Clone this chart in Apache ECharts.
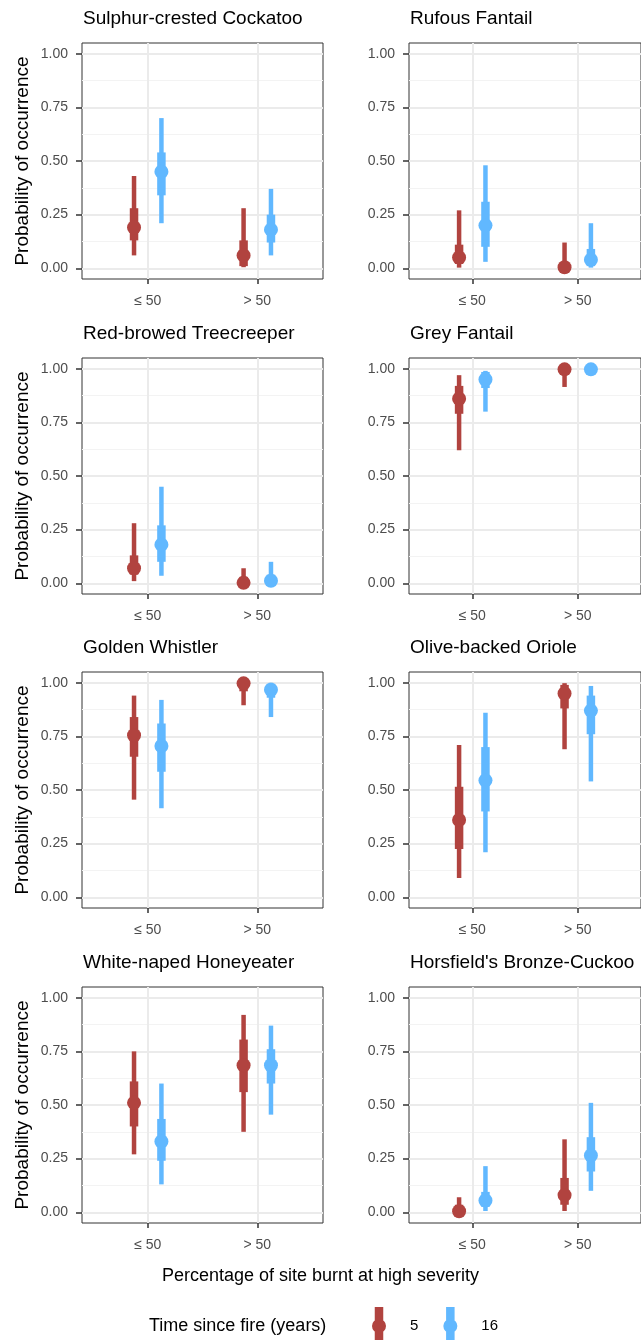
<!DOCTYPE html>
<html>
<head>
<meta charset="utf-8">
<script src="https://cdn.jsdelivr.net/npm/echarts@6/dist/echarts.min.js"></script>
<style>
html,body{margin:0;padding:0;background:#fff;}
#chart{width:641px;height:1340px;}
</style>
</head>
<body>
<div id="chart"></div>
<script>
// ---------- data ----------
const species = ['Sulphur-crested Cockatoo', 'Rufous Fantail', 'Red-browed Treecreeper', 'Grey Fantail',
  'Golden Whistler', 'Olive-backed Oriole', 'White-naped Honeyeater', "Horsfield's Bronze-Cuckoo"];
const xLabels = ['≤ 50', '> 50'];
const yTicks = [0, 0.25, 0.5, 0.75, 1];
const yMinor = [0.125, 0.375, 0.625, 0.875];
const timeGroups = ['5', '16'];

// point estimates per species: [≤50, >50]
const point5 = [[0.19, 0.06], [0.05, 0.005], [0.07, 0.002], [0.86, 0.997],
  [0.755, 0.997], [0.36, 0.95], [0.51, 0.685], [0.005, 0.08]];
const point16 = [[0.45, 0.18], [0.20, 0.04], [0.18, 0.012], [0.95, 0.997],
  [0.705, 0.967], [0.545, 0.87], [0.33, 0.685], [0.055, 0.265]];
// inner (thick) intervals per species: [[lo,hi] for ≤50, [lo,hi] for >50]
const inner5 = [[[0.13, 0.28], [0.01, 0.13]], [[0.02, 0.11], [0, 0.03]], [[0.04, 0.13], [0, 0.03]], [[0.79, 0.92], [0.975, 1.0]],
  [[0.655, 0.84], [0.96, 1.0]], [[0.225, 0.515], [0.88, 0.99]], [[0.40, 0.61], [0.56, 0.805]], [[0, 0.035], [0.035, 0.16]]];
const inner16 = [[[0.34, 0.54], [0.12, 0.25]], [[0.10, 0.31], [0.01, 0.09]], [[0.10, 0.27], [0.002, 0.04]], [[0.91, 0.985], [0.99, 1.0]],
  [[0.585, 0.81], [0.93, 0.995]], [[0.40, 0.70], [0.76, 0.94]], [[0.24, 0.435], [0.60, 0.76]], [[0.025, 0.095], [0.19, 0.35]]];
// outer (thin) intervals
const outer5 = [[[0.06, 0.43], [0.005, 0.28]], [[0.003, 0.27], [0, 0.12]], [[0.01, 0.28], [0, 0.07]], [[0.62, 0.97], [0.915, 1.0]],
  [[0.455, 0.94], [0.895, 1.0]], [[0.09, 0.71], [0.69, 0.998]], [[0.27, 0.75], [0.375, 0.92]], [[0, 0.07], [0.006, 0.34]]];
const outer16 = [[[0.21, 0.70], [0.06, 0.37]], [[0.03, 0.48], [0.003, 0.21]], [[0.035, 0.45], [0, 0.10]], [[0.80, 0.99], [0.975, 1.0]],
  [[0.415, 0.92], [0.84, 1.0]], [[0.21, 0.86], [0.54, 0.985]], [[0.13, 0.60], [0.455, 0.87]], [[0.006, 0.215], [0.10, 0.51]]];

// ---------- layout / style ----------
const FONT = '"Liberation Sans", Arial, sans-serif';
const colors = {'5': '#b1433f', '16': '#61b8ff'};
const dodge = {'5': -0.125, '16': 0.125};
const colLeft = [82, 409];
const rowTop = [43, 358, 672, 987];
const panelW = 241, panelH = 236;

const grids = [], xAxes = [], yAxes = [], series = [], titles = [];

function renderItem(params, api) {
  const x = api.value(0);
  const p = api.coord([x, api.value(1)]);
  const i1 = api.coord([x, api.value(2)]), i2 = api.coord([x, api.value(3)]);
  const o1 = api.coord([x, api.value(4)]), o2 = api.coord([x, api.value(5)]);
  const color = api.visual('color');
  return {
    type: 'group',
    children: [
      {type: 'line', shape: {x1: o1[0], y1: o1[1], x2: o2[0], y2: o2[1]}, style: {stroke: color, lineWidth: 4.5, lineCap: 'butt'}},
      {type: 'line', shape: {x1: i1[0], y1: i1[1], x2: i2[0], y2: i2[1]}, style: {stroke: color, lineWidth: 8.5, lineCap: 'butt'}},
      {type: 'circle', shape: {cx: p[0], cy: p[1], r: 7}, style: {fill: color}}
    ]
  };
}

species.forEach((name, k) => {
  const col = k % 2, row = Math.floor(k / 2);
  grids.push({left: colLeft[col], top: rowTop[row], width: panelW, height: panelH,
    show: true, borderColor: '#333333', borderWidth: 1, backgroundColor: 'transparent'});
  titles.push({text: name, left: colLeft[col] + 1, top: rowTop[row] - 34, padding: 0,
    textStyle: {fontFamily: FONT, fontSize: 19, fontWeight: 'normal', color: '#000'}});
  xAxes.push({
    type: 'value', gridIndex: k, min: 0.4, max: 2.6,
    axisLine: {show: false, onZero: false},
    axisTick: {show: true, length: 5, customValues: [1, 2], lineStyle: {color: '#333333', width: 1.5}},
    axisLabel: {show: true, customValues: [1, 2], margin: 15, fontSize: 14, color: '#4d4d4d', fontFamily: FONT,
      formatter: v => xLabels[Math.round(v) - 1]},
    splitLine: {show: true, lineStyle: {color: '#ebebeb', width: 2}}
  });
  yAxes.push({
    type: 'value', gridIndex: k, min: -0.05, max: 1.05,
    name: col === 0 ? 'Probability of occurrence' : '',
    nameLocation: 'middle', nameRotate: 90, nameGap: 50, nameMoveOverlap: false,
    nameTextStyle: {fontFamily: FONT, fontSize: 19, color: '#000'},
    axisLine: {show: false, onZero: false},
    axisTick: {show: true, length: 6, customValues: yTicks, lineStyle: {color: '#333333', width: 1.5}},
    axisLabel: {show: true, customValues: yTicks, margin: 14, fontSize: 14, color: '#4d4d4d', fontFamily: FONT,
      formatter: v => v.toFixed(2)},
    splitLine: {show: true, lineStyle: {color: '#ebebeb', width: 2}}
  });
  yAxes.push({
    type: 'value', gridIndex: k, min: -0.05, max: 1.05,
    axisLine: {show: false, onZero: false},
    axisTick: {show: false, customValues: yMinor},
    axisLabel: {show: false, customValues: yMinor},
    splitLine: {show: true, lineStyle: {color: '#f3f3f3', width: 1}}
  });
  timeGroups.forEach(g => {
    const pts = g === '5' ? point5 : point16;
    const inn = g === '5' ? inner5 : inner16;
    const out = g === '5' ? outer5 : outer16;
    const data = [0, 1].map(c => [c + 1 + dodge[g], pts[k][c], inn[k][c][0], inn[k][c][1], out[k][c][0], out[k][c][1]]);
    series.push({
      type: 'custom', name: g, xAxisIndex: k, yAxisIndex: 2 * k,
      renderItem: renderItem,
      encode: {x: 0, y: [1, 2, 3, 4, 5]},
      itemStyle: {color: colors[g]},
      data: data, z: 5, silent: true
    });
  });
});

const option = {
  animation: false,
  backgroundColor: '#ffffff',
  textStyle: {fontFamily: FONT},
  title: titles,
  grid: grids,
  xAxis: xAxes,
  yAxis: yAxes,
  series: series,
  legend: {
    data: timeGroups, left: 372, top: 1307, padding: 0, orient: 'horizontal',
    itemWidth: 14, itemHeight: 38, itemGap: 25,
    icon: 'path://M-4.25,0 L4.25,0 L4.25,38 L-4.25,38 Z M-7,19 A7,7 0 1,1 7,19 A7,7 0 1,1 -7,19 Z',
    textStyle: {fontFamily: FONT, fontSize: 15, color: '#000', padding: [0, 0, 0, 19]},
    selectedMode: false
  },
  graphic: [
    {type: 'text', left: 'center', top: 1267,
      style: {text: 'Percentage of site burnt at high severity', font: '18px ' + FONT, fill: '#000'}},
    {type: 'text', left: 149, top: 1317,
      style: {text: 'Time since fire (years)', font: '18px ' + FONT, fill: '#000'}}
  ]
};

const chart = echarts.init(document.getElementById('chart'), null, {renderer: 'canvas'});
chart.setOption(option);
</script>
</body>
</html>
